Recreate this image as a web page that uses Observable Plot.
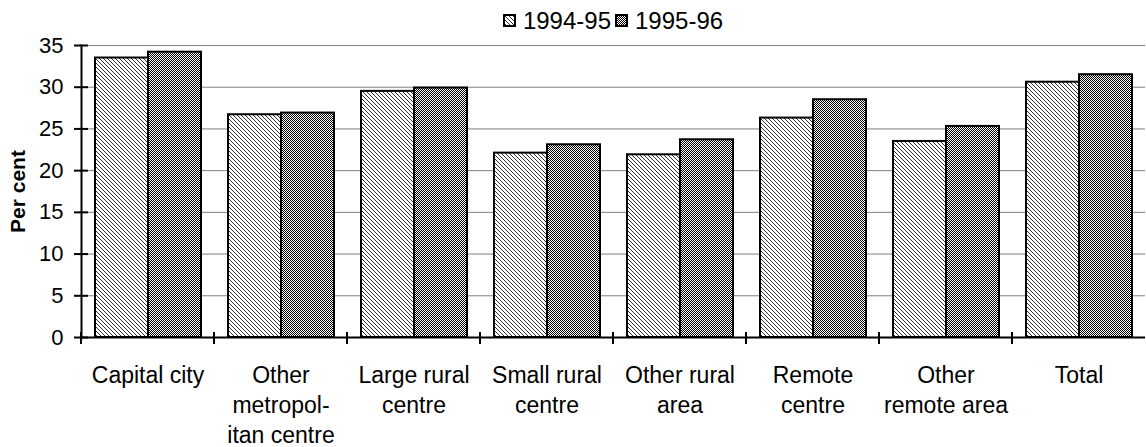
<!DOCTYPE html>
<html>
<head>
<meta charset="utf-8">
<script src="https://cdn.jsdelivr.net/npm/d3@7"></script>
<script src="https://cdn.jsdelivr.net/npm/@observablehq/plot@0.6"></script>
<style>
  html, body { margin: 0; padding: 0; background: #fff; }
  body { width: 1146px; height: 447px; overflow: hidden; font-family: "Liberation Sans", Arial, sans-serif; }
  #legend { height: 36px; padding-top: 5px; display: flex; align-items: center; justify-content: center; padding-left: 80px; box-sizing: border-box; font-size: 24px; color: #000; }
  #legend .item { display: flex; align-items: center; margin: 0 2px; }
  #legend svg { margin-right: 7px; }
  #chart g[aria-label="y-axis label"] text { font-weight: bold; font-size: 21px; }
</style>
</head>
<body>
<svg width="0" height="0" style="position:absolute">
  <defs>
    <pattern id="patA" patternUnits="userSpaceOnUse" width="4" height="4">
      <rect width="4" height="4" fill="#fff"/>
      <rect x="0" y="0" width="1" height="1" fill="#333"/>
      <rect x="1" y="1" width="1" height="1" fill="#333"/>
      <rect x="2" y="2" width="1" height="1" fill="#333"/>
      <rect x="3" y="3" width="1" height="1" fill="#333"/>
    </pattern>
    <pattern id="patB" patternUnits="userSpaceOnUse" width="2" height="2">
      <rect width="2" height="2" fill="#fff"/>
      <rect x="0" y="0" width="1" height="1" fill="#000"/>
      <rect x="1" y="1" width="1" height="1" fill="#000"/>
    </pattern>
  </defs>
</svg>
<div id="legend"></div>
<div id="chart"></div>
<script>
// ---- data ----
const categories = ["Capital city", "Other metropolitan centre", "Large rural centre", "Small rural centre", "Other rural area", "Remote centre", "Other remote area", "Total"];
const categoryLabels = ["Capital city", "Other\nmetropol-\nitan centre", "Large rural\ncentre", "Small rural\ncentre", "Other rural\narea", "Remote\ncentre", "Other\nremote area", "Total"];
const series = ["1994-95", "1995-96"];
const values1994 = [33.5, 26.7, 29.5, 22.1, 21.9, 26.3, 23.5, 30.6];
const values1995 = [34.2, 26.9, 29.9, 23.1, 23.7, 28.5, 25.3, 31.5];
const yTicks = [0, 5, 10, 15, 20, 25, 30, 35];
const seriesFills = ["url(#patA)", "url(#patB)"];

const data = [];
categories.forEach((c, i) => {
  data.push({category: c, series: series[0], value: values1994[i]});
  data.push({category: c, series: series[1], value: values1995[i]});
});

// ---- legend ----
const legend = d3.select("#legend");
series.forEach((s, i) => {
  const item = legend.append("div").attr("class", "item");
  const sw = item.append("svg").attr("width", 13).attr("height", 13);
  sw.append("rect").attr("x", 1).attr("y", 1).attr("width", 11).attr("height", 11)
    .attr("fill", seriesFills[i]).attr("stroke", "#000").attr("stroke-width", 2);
  item.append("span").text(s);
});

// boundary ticks on the category axis, drawn at each facet's left edge
function boundaryTicks(index, scales, values, dimensions) {
  const y0 = scales.y(0);
  const x0 = dimensions.marginLeft;
  const g = d3.create("svg:g").attr("aria-label", "category boundary ticks");
  g.append("line").attr("x1", x0).attr("x2", x0).attr("y1", y0 - 5).attr("y2", y0 + 7)
    .attr("stroke", "#000").attr("stroke-width", 2);
  return g.node();
}

const plot = Plot.plot({
  width: 1146,
  height: 411,
  marginLeft: 80,
  marginRight: 0,
  marginTop: 9,
  marginBottom: 110,
  style: {fontFamily: "'Liberation Sans', Arial, sans-serif", fontSize: "22px", color: "#000", background: "#fff", overflow: "visible"},
  fx: {domain: categories, padding: 0, label: null},
  x: {domain: series, paddingInner: 0, paddingOuter: 0.235, axis: null},
  y: {domain: [0, 35], label: null},
  color: {domain: series, range: seriesFills},
  marks: [
    Plot.gridY(yTicks.filter(d => d > 0), {stroke: "#808080", strokeOpacity: 1, strokeWidth: 1}),
    Plot.barY(data, {fx: "category", x: "series", y: "value", fill: "series", stroke: "#000", strokeWidth: 2}),
    Plot.ruleY([0], {stroke: "#000", strokeWidth: 2}),
    Plot.frame({anchor: "left", facetAnchor: "left", stroke: "#000", strokeWidth: 2}),
    Plot.axisY(yTicks, {anchor: "left", tickSize: 7, tickPadding: 11, strokeWidth: 2, fontSize: 22, label: "Per cent", labelAnchor: "center", labelOffset: 71, labelArrow: "none"}),
    Plot.axisY(yTicks, {anchor: "left", tickSize: -7, strokeWidth: 2, text: null, label: null}),
    Plot.axisFx({anchor: "bottom", tickSize: 0, tickPadding: 24, fontSize: 23, lineHeight: 1.3, label: null,
      tickFormat: d => categoryLabels[categories.indexOf(d)]}),
    boundaryTicks
  ]
});
document.getElementById("chart").appendChild(plot);
</script>
</body>
</html>
